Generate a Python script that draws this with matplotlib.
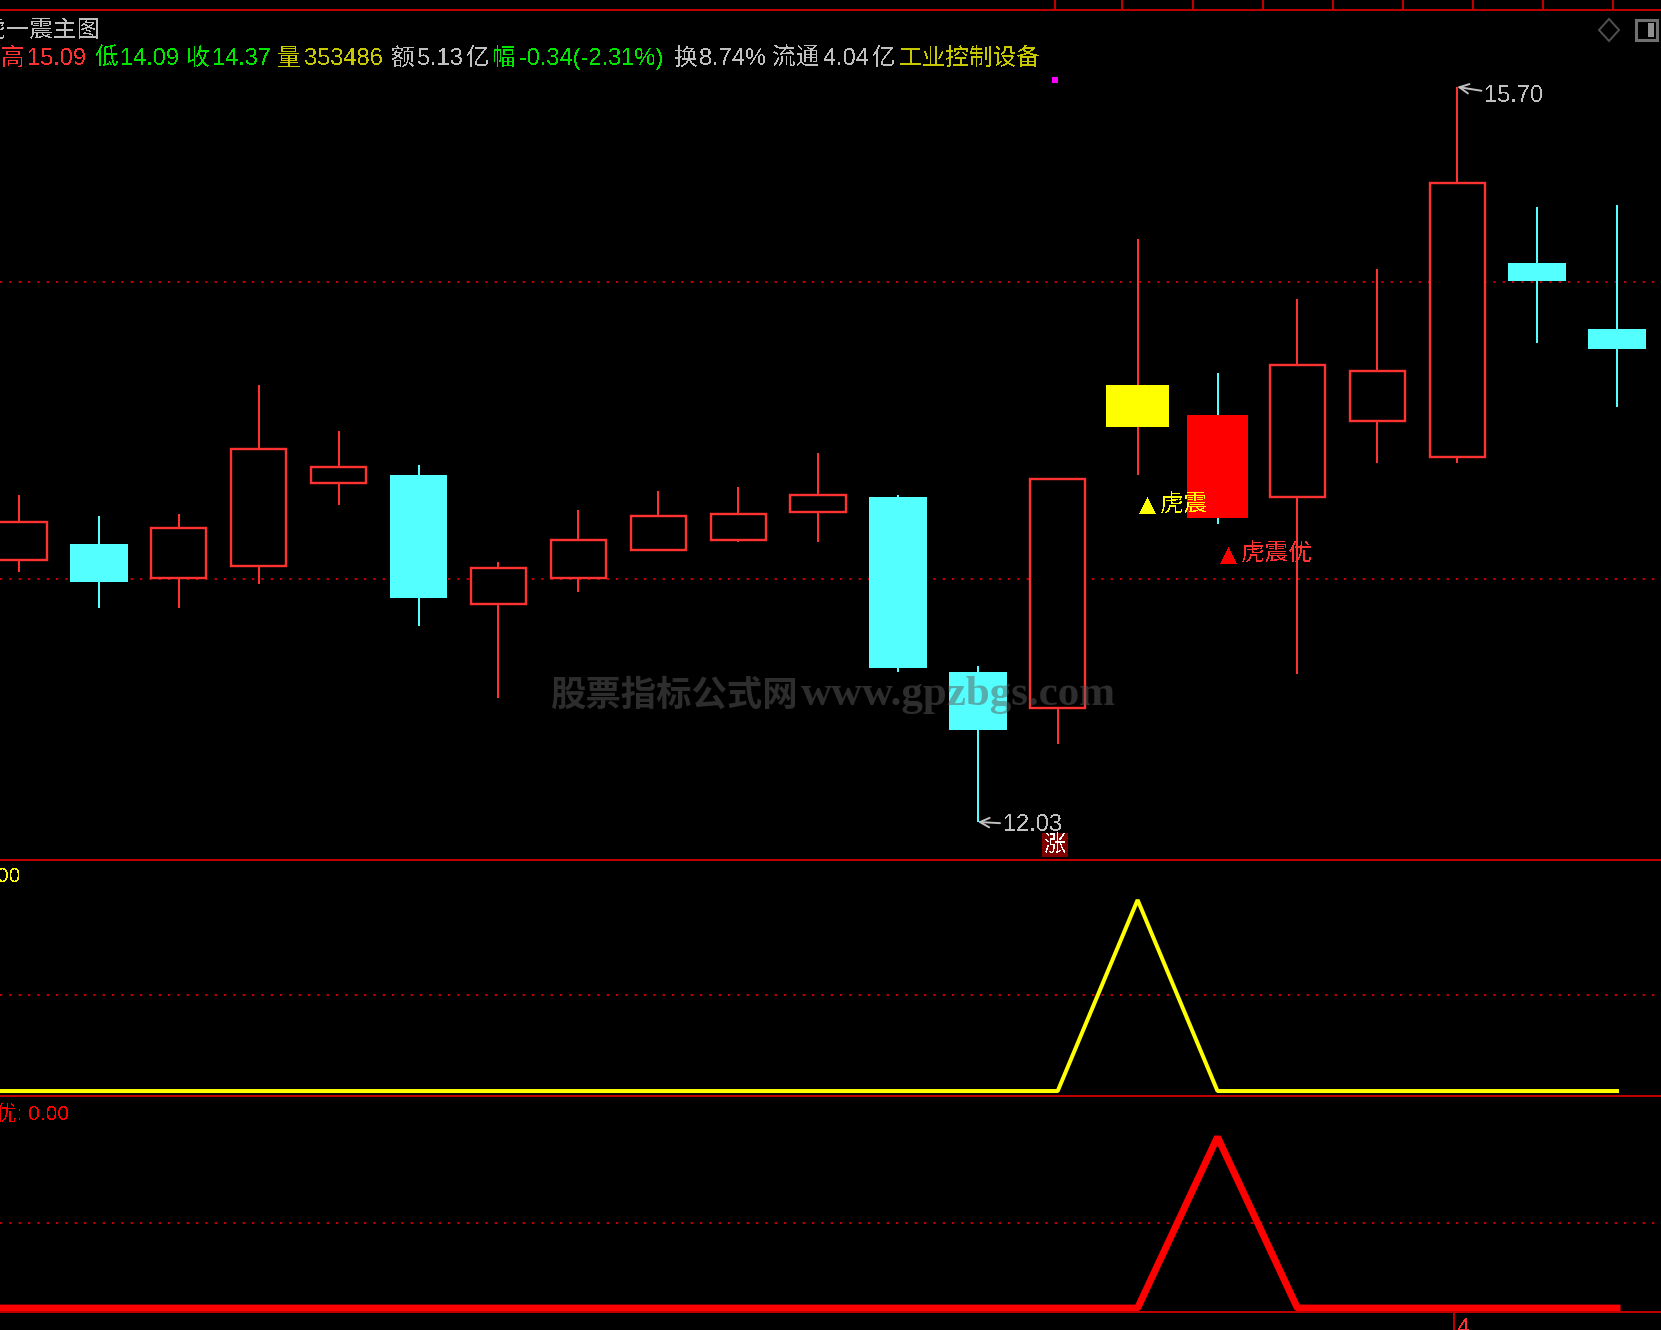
import numpy as np
import matplotlib
matplotlib.use("Agg")
import matplotlib.pyplot as plt
from matplotlib.patches import Rectangle, Polygon

# candle data
opens  = [13.34, 13.42, 13.25, 13.31, 13.72, 13.76, 13.12, 13.25, 13.39, 13.44, 13.58, 13.65, 12.78, 12.60, 14.00, 14.06, 13.65, 14.03, 13.85, 14.82, 14.49]
closes = [13.53, 13.23, 13.50, 13.89, 13.80, 13.15, 13.30, 13.44, 13.56, 13.57, 13.66, 12.80, 12.49, 13.74, 14.21, 13.55, 14.31, 14.28, 15.22, 14.73, 14.39]
highs  = [13.66, 13.56, 13.57, 14.21, 13.98, 13.81, 13.33, 13.59, 13.68, 13.70, 13.87, 13.66, 12.81, 13.74, 14.94, 14.27, 14.64, 14.79, 15.70, 15.10, 15.11]
lows   = [13.28, 13.10, 13.10, 13.22, 13.61, 13.01, 12.65, 13.18, 13.39, 13.43, 13.43, 12.78, 12.03, 12.42, 13.76, 13.52, 12.77, 13.82, 13.82, 14.42, 14.10]
price_grid = [14.725, 13.245]

# indicators, first value is the bar cut off at the left edge
sig_bars = list(range(-1, 21))
sig_hu   = [0]*15 + [100] + [0]*6
sig_you  = [0]*16 + [100] + [0]*5
sig_grid = 50

header_text = ["高", "15.09", "低", "14.09", "收", "14.37", "量", "353486", "额", "5.13", "亿", "幅",
               "-0.34(-2.31%)", "换", "8.74%", "流通", "4.04", "亿", "工业控制设备"]
header_x = [1, 27, 95, 120, 186, 212, 277, 304, 391, 417, 466, 492, 519, 674, 699, 772, 823, 872, 899]
RED_T, GREEN_T, YEL_T, GRAY_T = "#ff3232", "#00e600", "#c8c800", "#c0c0c0"
header_col = [RED_T, RED_T, GREEN_T, GREEN_T, GREEN_T, GREEN_T, YEL_T, YEL_T, GRAY_T, GRAY_T, GRAY_T,
              GREEN_T, GREEN_T, GRAY_T, GRAY_T, GRAY_T, GRAY_T, GRAY_T, YEL_T]
cell_x = [1055, 1122, 1193, 1263, 1333, 1403, 1473, 1543, 1613]

W, H = 1661, 1330
RED, CYAN, DIV = "#ff3232", "#54ffff", "#c00000"
PX = 72 / 100.0  # points per pixel

plt.rcParams["font.family"] = ["Liberation Sans", "Noto Sans CJK SC", "DejaVu Sans"]
plt.rcParams["text.antialiased"] = False

fig = plt.figure(figsize=(W / 100, H / 100), dpi=100, facecolor="black")


def pane(top, bottom, ymin, ymax):
    ax = fig.add_axes([0, 1 - bottom / H, 1, (bottom - top) / H])
    ax.set_facecolor("black")
    ax.set_xlim(-19 / 79.9, (W - 19) / 79.9)
    ax.set_ylim(ymin, ymax)
    ax.axis("off")
    return ax


ax = pane(10, 860, 11.84, 16.084)
ax1 = pane(860, 1096, -2.6, 120.9)
ax2 = pane(1096, 1312, -2.3, 124.0)

# price pane
dots = (0, (1.2, 3.6))
for p in price_grid:
    ax.axhline(p, color=DIV, lw=1.4, ls=dots, zorder=1)

for i in range(len(opens)):
    up = closes[i] >= opens[i]
    col = RED if up else CYAN
    ax.vlines(i, lows[i], highs[i], color=col, lw=2 * PX, zorder=2, antialiased=False)
    low_b, high_b = min(opens[i], closes[i]), max(opens[i], closes[i])
    if i == 14:
        ax.bar(i, high_b - low_b, 0.78, low_b, color="#ffff00", zorder=3)
    elif i == 15:
        ax.bar(i, high_b - low_b, 0.77, low_b, color="#ff0000", zorder=3)
    elif up:
        ax.bar(i, high_b - low_b, 0.69, low_b, facecolor="black", edgecolor=RED, lw=2.4 * PX, zorder=3)
    else:
        ax.bar(i, high_b - low_b, 0.72, low_b, color=CYAN, zorder=3)

# signal labels below bars 14 and 15
ax.annotate("▲", xy=(14, lows[14]), xytext=(10, -31), textcoords="offset pixels", color="#ffff00",
            fontsize=21, ha="center", va="center", zorder=5)
ax.annotate("虎震", xy=(14, lows[14]), xytext=(22, -30), textcoords="offset pixels", color="#ffff00",
            fontsize=17, ha="left", va="center", zorder=5)
ax.annotate("▲", xy=(15, lows[15]), xytext=(11, -32), textcoords="offset pixels", color="#ff0000",
            fontsize=21, ha="center", va="center", zorder=5)
ax.annotate("虎震优", xy=(15, lows[15]), xytext=(23, -31), textcoords="offset pixels", color="#ff3232",
            fontsize=17, ha="left", va="center", zorder=5)

# high and low markers
arrow = dict(arrowstyle="->", color=GRAY_T, lw=1.4, shrinkA=0, shrinkB=0)
ax.annotate("%.2f" % highs[18], xy=(18, highs[18]), xytext=(27, -9), textcoords="offset pixels",
            color=GRAY_T, fontsize=17, ha="left", va="center", arrowprops=arrow, zorder=5)
ax.annotate("%.2f" % lows[12], xy=(12, lows[12]), xytext=(25, -3), textcoords="offset pixels",
            color=GRAY_T, fontsize=17, ha="left", va="center", arrowprops=arrow, zorder=5)

# indicator panes
ax1.axhline(sig_grid, color=DIV, lw=1.4, ls=dots)
ax1.plot(sig_bars, sig_hu, color="#ffff00", lw=4 * PX, solid_joinstyle="bevel")
ax2.axhline(sig_grid, color=DIV, lw=1.4, ls=dots)
ax2.plot(sig_bars, sig_you, color="#ff0000", lw=7 * PX, solid_joinstyle="bevel")

# overlay in pixel coordinates for the window furniture and texts
ov = fig.add_axes([0, 0, 1, 1], facecolor="none")
ov.set_xlim(0, W)
ov.set_ylim(H, 0)
ov.axis("off")

for y in [10, 860, 1096, 1312]:
    ov.plot([0, W], [y, y], color=DIV, lw=2 * PX, antialiased=False)
ov.vlines(cell_x, 0, 10, color=DIV, lw=2 * PX, antialiased=False)
ov.vlines(1454, 1312, H, color=DIV, lw=2 * PX, antialiased=False)
ov.text(1458, 1318, "4", color=RED, fontsize=17, va="top", ha="left")

ov.text(-18, 31, "虎一震主图", color=GRAY_T, fontsize=17, va="center", ha="left")
for s, x, c in zip(header_text, header_x, header_col):
    ov.text(x, 59, s, color=c, fontsize=17, va="center", ha="left")

ov.text(21, 877, "100.00", color="#ffff00", fontsize=15, va="center", ha="right")
ov.text(69, 1114, "虎震优: 0.00", color="#ff0000", fontsize=15, va="center", ha="right")

ov.add_patch(Rectangle((1052, 77), 6, 6, color="#ff00ff", lw=0))
ov.add_patch(Polygon([(1609, 19), (1619, 30), (1609, 41), (1599, 30)], fill=False, ec="#505050", lw=1.4))
ov.add_patch(Rectangle((1636, 20), 21, 20, fill=False, ec="#707070", lw=2.2))
ov.add_patch(Rectangle((1648, 23), 6, 14, color="#909090", lw=0))

ov.add_patch(Rectangle((1042, 833), 26, 24, color="#800000", lw=0))
ov.text(1055, 845, "涨", color="white", fontsize=16, ha="center", va="center")

# watermark, two parts because the Chinese and latin widths differ
ov.text(550, 695, "股票指标公式网", color="#5a5a5a", alpha=0.5, fontsize=25.5,
        family=["Noto Sans CJK SC"], weight="bold", ha="left", va="center", antialiased=True)
ov.text(801, 695, "www.gpzbgs.com", color="#5a5a5a", alpha=0.5, fontsize=31,
        family=["Liberation Serif"], weight="bold", ha="left", va="center", antialiased=True)

fig.savefig("out.png", dpi=100, facecolor="black")
